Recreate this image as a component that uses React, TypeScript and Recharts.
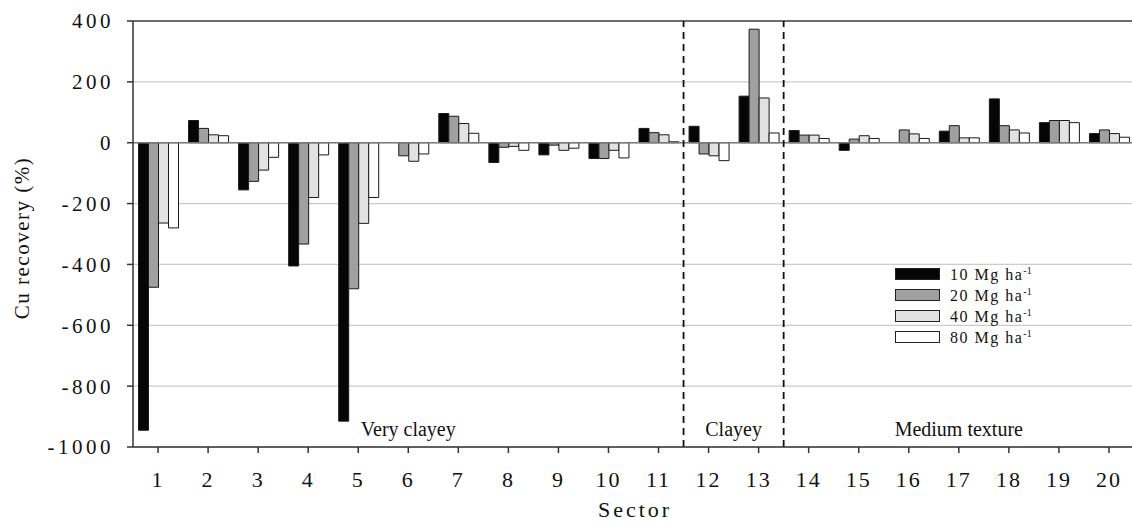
import React from 'react';
import {
  BarChart,
  Bar,
  XAxis,
  YAxis,
  CartesianGrid,
  ReferenceLine,
  ReferenceArea,
  Legend,
} from 'recharts';

const sectors = ['1', '2', '3', '4', '5', '6', '7', '8', '9', '10', '11', '12', '13', '14', '15', '16', '17', '18', '19', '20'];

// Cu recovery (%) by rate
const rate10 = [-945, 73, -155, -405, -915, 0, 96, -65, -40, -52, 47, 54, 153, 40, -25, 0, 38, 144, 66, 30];
const rate20 = [-475, 47, -127, -333, -480, -43, 87, -15, -8, -52, 33, -37, 373, 25, 12, 42, 56, 56, 73, 42];
const rate40 = [-264, 26, -90, -180, -265, -61, 63, -12, -25, -25, 26, -43, 147, 25, 23, 29, 16, 42, 73, 30];
const rate80 = [-280, 23, -48, -40, -180, -37, 31, -25, -18, -50, 3, -59, 32, 14, 14, 14, 16, 32, 66, 18];

const rates = ['10', '20', '40', '80'];
const yTicks = [-1000, -800, -600, -400, -200, 0, 200, 400];

// texture groups: label, first sector, last sector
const groups: [string, string, string][] = [
  ['Very clayey', '1', '11'],
  ['Clayey', '12', '13'],
  ['Medium texture', '14', '20'],
];
const dividers = ['12', '14'];

const fills = ['#050505', '#a0a0a0', '#e2e2e2', '#ffffff'];
const FONT = 'Liberation Serif, DejaVu Serif, serif';
const INK = '#111';

const data = sectors.map((s, i) => ({
  sector: s,
  r10: rate10[i],
  r20: rate20[i],
  r40: rate40[i],
  r80: rate80[i],
}));

function LegendBox() {
  return (
    <div style={{ fontFamily: FONT, color: INK }}>
      {rates.map((r, i) => (
        <div key={r} style={{ display: 'flex', alignItems: 'center', height: 21 }}>
          <div
            style={{
              width: 43,
              height: 10,
              background: fills[i],
              border: '1.5px solid #222',
              marginRight: 10,
            }}
          />
          <span style={{ fontSize: 16, letterSpacing: 1.5, whiteSpace: 'nowrap', lineHeight: '16px' }}>
            {r} Mg ha<sup style={{ fontSize: 10, letterSpacing: 0 }}>-1</sup>
          </span>
        </div>
      ))}
    </div>
  );
}

export default function App() {
  return (
    <div style={{ position: 'absolute', left: 0, top: 0, background: '#fff', fontFamily: FONT }}>
      <BarChart
        width={1132}
        height={522}
        data={data}
        margin={{ top: 21, right: -2, left: 0, bottom: 15 }}
        barCategoryGap="11%"
        barGap={0}
        style={{ fontFamily: FONT }}
      >
        <CartesianGrid vertical={false} stroke="#cccccc" strokeWidth={1.2} />
        <XAxis
          dataKey="sector"
          interval={0}
          height={60}
          tickSize={6}
          tickMargin={18}
          axisLine={{ stroke: '#333', strokeWidth: 1.5 }}
          tickLine={{ stroke: '#333', strokeWidth: 1.5 }}
          tick={{ fontFamily: FONT, fontSize: 22, fill: INK, letterSpacing: 2 }}
          label={{
            content: () => (
              <text
                x={635}
                y={517}
                textAnchor="middle"
                fontFamily={FONT}
                fontSize={22}
                letterSpacing={3}
                fill={INK}
              >
                Sector
              </text>
            ),
          }}
        />
        <YAxis
          width={133}
          domain={[-1000, 400]}
          ticks={yTicks}
          interval={0}
          tickSize={6}
          tickMargin={13}
          axisLine={{ stroke: '#333', strokeWidth: 1.5 }}
          tickLine={{ stroke: '#333', strokeWidth: 1.5 }}
          tick={{ fontFamily: FONT, fontSize: 21, fill: INK, letterSpacing: 3.5 }}
          label={{
            content: () => (
              <text
                x={22}
                y={238}
                transform="rotate(-90 22 238)"
                textAnchor="middle"
                dominantBaseline="central"
                fontFamily={FONT}
                fontSize={21}
                letterSpacing={1.5}
                fill={INK}
              >
                Cu recovery (%)
              </text>
            ),
          }}
        />
        <ReferenceLine y={0} stroke="#7a7a7a" strokeWidth={1.5} />
        <ReferenceLine y={400} stroke="#444" strokeWidth={1.5} />
        {groups.map(([name, a, b]) => (
          <ReferenceArea
            key={name}
            x1={a}
            x2={b}
            fill="none"
            fillOpacity={0}
            stroke="none"
            label={{
              value: name,
              position: 'insideBottom',
              offset: 11,
              fontFamily: FONT,
              fontSize: 20,
              fill: INK,
            }}
          />
        ))}
        {dividers.map((d) => (
          <ReferenceLine
            key={d}
            x={d}
            position="start"
            stroke="#111"
            strokeWidth={1.8}
            strokeDasharray="7 5"
          />
        ))}
        <Bar dataKey="r10" name="10" fill={fills[0]} stroke="#1a1a1a" strokeWidth={1} isAnimationActive={false} />
        <Bar dataKey="r20" name="20" fill={fills[1]} stroke="#1a1a1a" strokeWidth={1} isAnimationActive={false} />
        <Bar dataKey="r40" name="40" fill={fills[2]} stroke="#1a1a1a" strokeWidth={1} isAnimationActive={false} />
        <Bar dataKey="r80" name="80" fill={fills[3]} stroke="#1a1a1a" strokeWidth={1} isAnimationActive={false} />
        <Legend
          layout="vertical"
          align="center"
          verticalAlign="middle"
          content={() => <LegendBox />}
          wrapperStyle={{ position: 'absolute', left: 895, top: 263, width: 'auto' }}
        />
      </BarChart>
    </div>
  );
}
